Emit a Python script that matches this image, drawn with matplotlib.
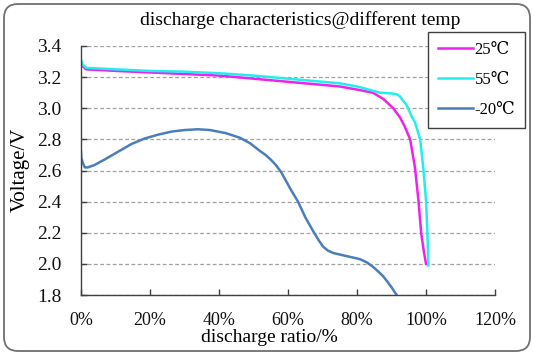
import matplotlib
matplotlib.use("Agg")
import matplotlib.pyplot as plt
from matplotlib.patches import FancyBboxPatch
from matplotlib.transforms import IdentityTransform
from matplotlib.ticker import FuncFormatter, MultipleLocator

# discharge ratio (%) and voltage (V)
x_25 = [0, 0.5, 1.5, 10, 20, 30, 40, 50, 60, 70, 75, 80, 84.6, 87.6, 90.5,
        92.5, 93.9, 95.4, 96.8, 97.8, 98.6, 99.3, 100]
v_25 = [3.30, 3.27, 3.25, 3.24, 3.23, 3.22, 3.21, 3.19, 3.17, 3.15, 3.14, 3.12, 3.10, 3.06, 3.00,
        2.94, 2.88, 2.80, 2.62, 2.41, 2.20, 2.09, 2.00]

x_55 = [0, 0.5, 1.5, 10, 20, 30, 40, 50, 60, 70, 75, 80, 86.7, 90, 91.5, 92.5, 93.3,
        94.4, 95.8, 96.8, 98.3, 99.2, 100, 100.4, 100.7]
v_55 = [3.31, 3.28, 3.26, 3.25, 3.24, 3.235, 3.225, 3.21, 3.19, 3.17, 3.16, 3.14, 3.10, 3.095, 3.09,
        3.075, 3.05, 3.02, 2.95, 2.91, 2.80, 2.62, 2.41, 2.20, 1.99]

x_m20 = [0, 0.1, 0.5, 1.1, 2.0, 3.9, 6.8, 10.7, 14.6, 18.4, 22.3, 26.2, 30, 33.9, 37.4,
         42, 46.1, 49, 51.9, 53.5, 55, 56.5, 58, 59.5, 61, 62.9, 65, 67.3, 68.8, 70.2, 71.6, 73.1,
         75, 77, 79, 80.9, 82.8, 84.7, 86.2, 87.6, 89, 90, 91.5]
v_m20 = [2.72, 2.68, 2.65, 2.62, 2.62, 2.635, 2.67, 2.72, 2.77, 2.805, 2.83, 2.85, 2.86, 2.865, 2.86,
         2.84, 2.81, 2.775, 2.725, 2.70, 2.67, 2.635, 2.59, 2.53, 2.47, 2.40, 2.30, 2.21, 2.155,
         2.11, 2.085, 2.07, 2.06, 2.05, 2.04, 2.03, 2.01, 1.98, 1.95, 1.92, 1.88, 1.85, 1.80]

series_labels = ["25℃", "55℃", "-20℃"]
series_colors = ["#EE22EE", "#22EEEE", "#4A7EBB"]

plt.rcParams["font.family"] = ["Liberation Serif", "DejaVu Serif"]

fig = plt.figure(figsize=(5.35, 3.62), dpi=100)
ax = fig.add_axes([81 / 535, 67 / 362, 414 / 535, 249 / 362])

for xs, vs, lab, col in zip([x_25, x_55, x_m20], [v_25, v_55, v_m20], series_labels, series_colors):
    ax.plot(xs, vs, color=col, lw=1.8, label=lab, solid_joinstyle="round")

ax.set_xlim(0, 120)
ax.set_ylim(1.8, 3.4)
ax.xaxis.set_major_locator(MultipleLocator(20))
ax.yaxis.set_major_locator(MultipleLocator(0.2))
ax.xaxis.set_major_formatter(FuncFormatter(lambda v, p: f"{v:.0f}%"))
ax.yaxis.set_major_formatter(FuncFormatter(lambda v, p: f"{v:.1f}"))

ax.grid(axis="y", color="#A0A0A0", linestyle=(0, (3, 2)), linewidth=0.9)
ax.set_axisbelow(True)
for side in ("top", "right"):
    ax.spines[side].set_visible(False)
for side in ("left", "bottom"):
    ax.spines[side].set_color("#404040")
    ax.spines[side].set_linewidth(1.0)
ax.tick_params(axis="both", direction="in", length=4, width=1.0, color="#404040",
               labelcolor="#111111")
ax.tick_params(axis="x", pad=12, labelsize=13)
ax.tick_params(axis="y", pad=14, labelsize=14)

fig.text(300 / 535, 1 - 20 / 362, "discharge characteristics@different temp",
         ha="center", va="center", fontsize=14)
fig.text(269 / 535, 1 - 338 / 362, "discharge ratio/%", ha="center", va="center", fontsize=14)
fig.text(20 / 535, 1 - 170 / 362, "Voltage/V", ha="center", va="center", rotation=90, fontsize=15)

leg = ax.legend(loc="upper left", bbox_to_anchor=(428 / 535, 1 - 32 / 362),
                bbox_transform=fig.transFigure, frameon=True, fancybox=False,
                edgecolor="#404040", framealpha=1.0, fontsize=12,
                handlelength=2.1, handletextpad=0.1, labelspacing=0.85,
                borderpad=0.6, borderaxespad=0)
leg.get_frame().set_linewidth(1.0)

border = FancyBboxPatch((4, 11), 526, 347, boxstyle="round,pad=0,rounding_size=14",
                        transform=IdentityTransform(), facecolor="none",
                        edgecolor="#707070", linewidth=1.3, zorder=-1)
fig.patches.append(border)

fig.savefig("out.png", dpi=100)
